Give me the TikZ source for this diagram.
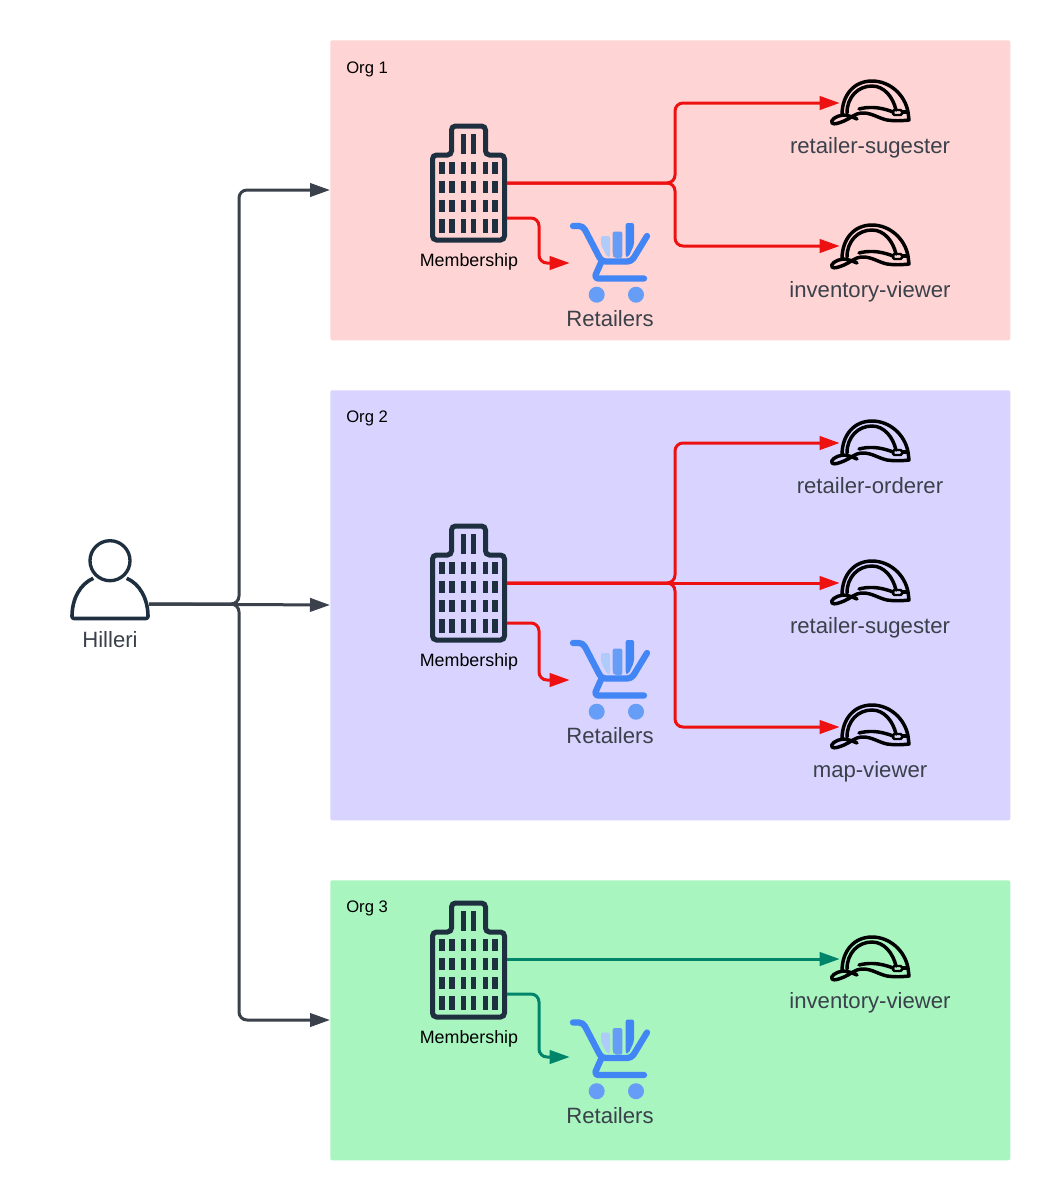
\documentclass[tikz,border=0pt]{standalone}
\usepackage{fontspec}
\setmainfont{Liberation Sans}
\usetikzlibrary{arrows.meta,calc}
\definecolor{orgred}{HTML}{FFD4D4}
\definecolor{orgblue}{HTML}{D9D4FF}
\definecolor{orggreen}{HTML}{A8F5C0}
\definecolor{linkred}{HTML}{EE1111}
\definecolor{linkteal}{HTML}{00856A}
\definecolor{slateline}{HTML}{3A414A}
\definecolor{navy}{HTML}{1E2F40}
\definecolor{cartA}{HTML}{4285F4}
\definecolor{cartB}{HTML}{669DF6}
\definecolor{cartC}{HTML}{AECBFA}
\tikzset{
  x=0.75pt,y=-0.75pt,
  orgbox/.style={fill=#1,draw=none,rounded corners=1.5pt},
  orgtitle/.style={anchor=west,inner sep=0pt,font=\fontsize{12.5}{14}\selectfont,text=black},
  memberlabel/.style={inner sep=0pt,font=\fontsize{13.4}{15}\selectfont,text=black},
  iconlabel/.style={inner sep=0pt,font=\fontsize{16.6}{19}\selectfont,text=slateline},
  bldg/.style={inner sep=0pt,minimum width=57pt,minimum height=89pt},
  cartbox/.style={inner sep=0pt,minimum width=60pt,minimum height=60pt},
  hatbox/.style={inner sep=0pt,minimum width=45pt,minimum height=40pt},
  personbox/.style={inner sep=0pt,minimum width=59pt,minimum height=60pt},
  link/.style={line width=2.25pt,rounded corners=6pt,-{Triangle[length=15pt,width=10pt]}},
  buildingicon/.pic={
    \draw[navy,line width=3.75pt,rounded corners=3pt,fill=none]
      (-36,-28) -- (-17,-28) -- (-17,-57) -- (17,-57) -- (17,-28) -- (36,-28) -- (36,57) -- (-36,57) -- cycle;
    \foreach \xa/\xb in {-29.5/-24,-19.5/-14,-7.5/-2.5,2/7.5,14/19,23.5/29}{
      \foreach \ya/\yb in {-21/-9,-2/10,17/29,36/50}{
        \fill[navy] (\xa,\ya) rectangle (\xb,\yb);
      }
    }
    \foreach \xa/\xb in {-7.5/-2.5,2/7.5}{
      \fill[navy] (\xa,-49) rectangle (\xb,-29);
    }
  },
  carticon/.pic={
    \fill[cartC,rounded corners=1.5pt] (-9,-27) -- (0,-27) -- (0,-6) -- (-3,-6) -- (-9,-18) -- cycle;
    \fill[cartB,rounded corners=1.5pt] (2.7,-31.5) -- (12.3,-31.5) -- (12.3,-5) -- (4,-5) -- (2.7,-8) -- cycle;
    \fill[cartA,rounded corners=1.5pt] (15.7,-40) -- (24,-40) -- (24,-18) -- (18.5,-6) -- (15.7,-6) -- cycle;
    \draw[cartA,line width=4.7pt,line cap=round,line join=round,rounded corners=3pt]
      (-37,-37) -- (-27,-37) -- (-8.5,-1.5) -- (21.5,-1.5) -- (37,-27);
    \draw[cartA,line width=4.7pt,line cap=round,line join=round,rounded corners=3pt]
      (-8.5,-1.5) -- (-16,15.5) -- (34,15.5);
    \fill[cartB] (-13.3,31.7) circle[radius=8];
    \fill[cartB] (26,31.7) circle[radius=8];
  },
  hardhat/.pic={
    \draw[black,line width=2.6pt,line join=round,line cap=round]
      (-28,12) .. controls (-28,-8) and (-16,-22) .. (2,-22)
      .. controls (20,-22) and (35,-8) .. (38,9) -- (39,17)
      .. controls (30,18) and (24,18) .. (17,17)
      .. controls (8,15) and (2,10) .. (-7,10)
      .. controls (-16,10) and (-20,16) .. (-26,18)
      .. controls (-31,20) and (-36,22) .. (-38,20)
      .. controls (-40,17) and (-34,13) .. (-27,12)
      .. controls (-22,12) and (-18,14) .. (-13,16);
    \draw[black,line width=2.6pt,line cap=round]
      (-23,10) .. controls (-23,-6) and (-12,-17) .. (2,-17)
      .. controls (14,-17) and (23,-6) .. (26,7);
    \draw[black,line width=2.6pt,line cap=round]
      (-11,6) .. controls (-3,4) and (8,3) .. (23,9);
    \draw[black,line width=1.8pt,rounded corners=1pt] (23,7) rectangle (32,12);
    \draw[black,line width=2.6pt] (32,9) -- (38,9);
  },
  personicon/.pic={
    \draw[navy,line width=2.5pt] (0,-28.3) circle[radius=20];
    \draw[navy,line width=2.7pt,line join=round,rounded corners=1.5pt]
      (-16.7,-10.7) .. controls (-30,-5) and (-38,10) .. (-38,29.5)
      -- (38,29.5) .. controls (38,10) and (30,-5) .. (16.7,-10.7);
  },
}
\begin{document}
\begin{tikzpicture}
\useasboundingbox (0,0) rectangle (1050,1200);
\fill[white] (0,0) rectangle (1050,1200);

\node[orgbox=orgred,minimum width=510pt,minimum height=225pt,inner sep=0pt,anchor=north west] (org1) at (330,40) {};
\node[orgbox=orgblue,minimum width=510pt,minimum height=322.5pt,inner sep=0pt,anchor=north west] (org2) at (330,390) {};
\node[orgbox=orggreen,minimum width=510pt,minimum height=210pt,inner sep=0pt,anchor=north west] (org3) at (330,880) {};
\node[orgtitle] (t1) at (346,69) {Org 1};
\node[orgtitle] (t2) at (346,418) {Org 2};
\node[orgtitle] (t3) at (346,908) {Org 3};

% person
\node[personbox] (user) at (110,589) {};
\pic at (user) {personicon};
\node[iconlabel] (userl) at (110,640) {Hilleri};

% org 1
\node[bldg] (b1) at (468.5,183) {};
\pic at (b1) {buildingicon};
\node[memberlabel] (b1l) at (469,262) {Membership};
\node[cartbox] (c1) at (610,263) {};
\pic at (c1) {carticon};
\node[iconlabel] (c1l) at (610,319) {Retailers};
\node[hatbox] (h11) at (870,103) {};
\pic at (h11) {hardhat};
\node[iconlabel] (h11l) at (870,148) {retailer-sugester};
\node[hatbox] (h12) at (870,247) {};
\pic at (h12) {hardhat};
\node[iconlabel] (h12l) at (870,292) {inventory-viewer};

% org 2
\node[bldg] (b2) at (468.5,583) {};
\pic at (b2) {buildingicon};
\node[memberlabel] (b2l) at (469,662) {Membership};
\node[cartbox] (c2) at (610,680) {};
\pic at (c2) {carticon};
\node[iconlabel] (c2l) at (610,736) {Retailers};
\node[hatbox] (h21) at (870,443) {};
\pic at (h21) {hardhat};
\node[iconlabel] (h21l) at (870,486) {retailer-orderer};
\node[hatbox] (h22) at (870,583) {};
\pic at (h22) {hardhat};
\node[iconlabel] (h22l) at (870,628) {retailer-sugester};
\node[hatbox] (h23) at (870,727) {};
\pic at (h23) {hardhat};
\node[iconlabel] (h23l) at (870,772) {map-viewer};

% org 3
\node[bldg] (b3) at (468.5,960) {};
\pic at (b3) {buildingicon};
\node[memberlabel] (b3l) at (469,1039) {Membership};
\node[cartbox] (c3) at (610,1059.5) {};
\pic at (c3) {carticon};
\node[iconlabel] (c3l) at (610,1116) {Retailers};
\node[hatbox] (h31) at (870,959) {};
\pic at (h31) {hardhat};
\node[iconlabel] (h31l) at (870,1003) {inventory-viewer};

% connectors: Hilleri to orgs
\coordinate (uo) at (149,604);
\draw[link,slateline] (uo) -- (239,604) -- (239,190) -- (org1.west |- 0,190);
\draw[link,slateline] (uo) -- (239,604) -- (239,1020) -- (org3.west |- 0,1020);
\draw[link,slateline] (uo) -- (org2.west |- 0,605);

% connectors: org 1
\draw[link,linkred] (b1.east) -- (675,183) -- (675,103) -- (h11.west |- 0,103);
\draw[link,linkred] (b1.east) -- (675,183) -- (675,246) -- (h12.west |- 0,246);
\draw[link,linkred] ($(b1.east)+(0,35)$) -- (539,218) -- (539,263) -- (c1.west);

% connectors: org 2
\draw[link,linkred] (b2.east) -- (675,583) -- (675,443) -- (h21.west);
\draw[link,linkred] (b2.east) -- (h22.west);
\draw[link,linkred] (b2.east) -- (675,583) -- (675,727) -- (h23.west);
\draw[link,linkred] ($(b2.east)+(0,40)$) -- (539,623) -- (539,680) -- (c2.west);

% connectors: org 3
\draw[link,linkteal] (b3.east |- 0,959) -- (h31.west);
\draw[link,linkteal] ($(b3.east)+(0,34)$) -- (539,994) -- (539,1057) -- (c3.west |- 0,1057);
\end{tikzpicture}
\end{document}
